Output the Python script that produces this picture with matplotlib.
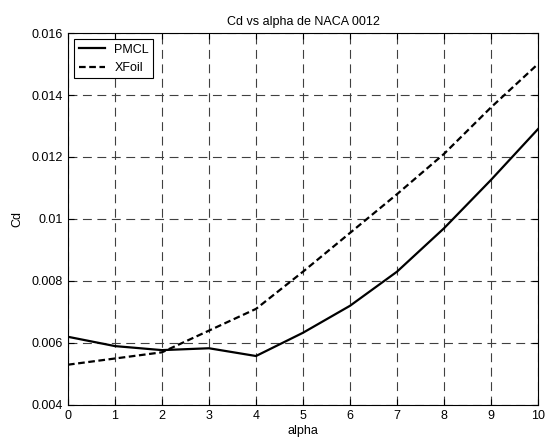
import matplotlib.pyplot as plt
import numpy as np

plt.rcParams["font.family"] = ["Liberation Sans", "DejaVu Sans"]

alpha = [0, 1, 2, 3, 4, 5, 6, 7, 8, 9, 10]
cd_pmcl = [0.0062, 0.0059, 0.00577, 0.00583, 0.00558, 0.00633, 0.0072, 0.0083,
           0.0097, 0.01126, 0.0129]
cd_xfoil = [0.0053, 0.0055, 0.0057, 0.0064, 0.0071, 0.0083, 0.00955, 0.0108,
            0.0121, 0.0136, 0.0150]

xticks = np.arange(0, 11, 1)
yticks = [0.004, 0.006, 0.008, 0.01, 0.012, 0.014, 0.016]
ytick_labels = ["0.004", "0.006", "0.008", "0.01", "0.012", "0.014", "0.016"]

fig = plt.figure(figsize=(5.47, 4.43), dpi=100)
ax = fig.add_axes([0.1243, 0.0858, 0.8592, 0.8397])

ax.plot(alpha, cd_pmcl, color="black", linewidth=1.6, label="PMCL")
ax.plot(alpha, cd_xfoil, color="black", linewidth=1.6,
        linestyle=(0, (3, 1.6)), label="XFoil")

ax.set_xlim(0, 10)
ax.set_ylim(0.004, 0.016)
ax.set_xticks(xticks)
ax.set_yticks(yticks)
ax.set_yticklabels(ytick_labels)

# MATLAB style dashed grid
ax.grid(True, color="0.25", linestyle=(0, (8, 5)), linewidth=0.8)
ax.tick_params(direction="in", top=True, right=True, labelsize=9, length=4)
for s in ax.spines.values():
    s.set_linewidth(0.8)

ax.set_title("Cd vs alpha de NACA 0012", fontsize=9, pad=6)
ax.set_xlabel("alpha", fontsize=9, labelpad=2)
ax.set_ylabel("Cd", fontsize=9, labelpad=6)

leg = ax.legend(loc="upper left", fontsize=9, fancybox=False, framealpha=1,
                edgecolor="black", handlelength=2.1, handletextpad=0.75,
                borderaxespad=0.5, borderpad=0.35, labelspacing=0.5)
leg.get_frame().set_linewidth(0.8)

fig.savefig("out.png", dpi=100)
